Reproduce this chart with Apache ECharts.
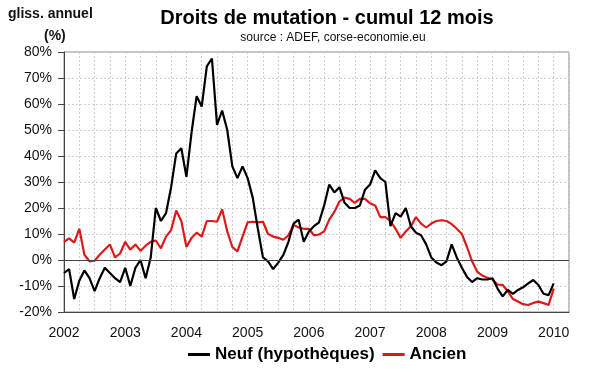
<!DOCTYPE html>
<html><head><meta charset="utf-8">
<script src="https://cdn.jsdelivr.net/npm/echarts@6/dist/echarts.min.js"></script>
<style>html,body{margin:0;padding:0;background:#fff}#c{width:600px;height:372px}</style>
</head><body><div id="c"></div>
<script>
// Monthly data, January 2002 .. January 2010 (index 0 = 2002-01)
const years = ['2002','2003','2004','2005','2006','2007','2008','2009','2010'];
const neuf = [-5,-3.5,-15,-8,-4,-7,-12,-7,-3,-5,-7,-8.5,
  -3,-10,-3,0,-7,1,20,15,18,28,41,43,
  32,49,63,59,74.5,77.5,52,57.5,50,36,31.5,36,
  31.5,24,12,1,-0.5,-3.5,-1,2,7,14,15.5,7,
  11,13,14.5,21,29,26,28,22,20,20,21,27,
  29,34.5,31.5,30,13,18,16.7,20,13,10.5,9.5,6,
  1,-1,-2,-0.5,6,1,-3,-6.5,-8.5,-7,-7.5,-7.5,
  -7,-11,-14,-11.5,-13,-11.5,-10.5,-9,-7.7,-9.6,-13,-13.5,
  -9];
const ancien = [7,8.3,6.7,12,2,-0.5,-0.3,2,4,6,1,2.5,
  7,4,6,3.5,5.5,7,7.5,4.5,9,11.5,19,15,
  5,8.5,10.5,9,15,15,14.7,19.5,11,5,3.3,9,
  14.5,14.7,14.5,14.7,10,9,8.5,7.8,9.5,13.5,12.5,12,
  12,9.5,9.8,11,15.5,18.5,22.5,24,23.5,22,23.5,23.5,
  21.8,21,16.5,16.5,15,12,8.5,11,13,16.5,14,12.5,
  14,15,15.3,15,13.8,12,10,5,-0.5,-4.5,-6,-6.8,
  -7.5,-9.5,-9.6,-12,-15,-16,-17,-17.3,-16.5,-16,-16.6,-17.3,
  -11];
const yTicks = [-20,-10,0,10,20,30,40,50,60,70,80];

const FONT = '"Liberation Sans", Arial, sans-serif';
const toPairs = arr => arr.map((v, i) => [i, v]);
const xLabel = v => (v % 12 === 0 && years[v / 12]) ? years[v / 12] : '';

const chart = echarts.init(document.getElementById('c'), null, {renderer: 'canvas'});
chart.setOption({
  animation: false,
  backgroundColor: '#fff',
  textStyle: {fontFamily: FONT},
  graphic: [
    {type: 'text', left: 8, top: 7, style: {text: 'gliss. annuel', font: 'bold 14px ' + FONT, fill: '#111'}},
    {type: 'text', left: 44, top: 29, style: {text: '(%)', font: 'bold 14px ' + FONT, fill: '#111'}},
    {type: 'text', x: 327, y: 8, style: {text: 'Droits de mutation - cumul 12 mois', font: 'bold 20px ' + FONT, fill: '#000', textAlign: 'center'}},
    {type: 'text', x: 333, y: 32, style: {text: 'source : ADEF, corse-economie.eu', font: '12px ' + FONT, fill: '#111', textAlign: 'center'}}
  ],
  grid: {left: 64, right: 31, top: 52, bottom: 60, show: true, borderColor: '#888', borderWidth: 1},
  legend: {
    left: 183, top: 341, itemGap: 8, itemWidth: 22, itemHeight: 3, icon: 'rect',
    textStyle: {fontFamily: FONT, fontSize: 17, fontWeight: 'bold', color: '#000'},
    data: ['Neuf (hypothèques)', 'Ancien']
  },
  xAxis: {
    type: 'value', min: 0, max: 99, interval: 3,
    axisLine: {show: true, onZero: false, lineStyle: {color: '#444', width: 1}},
    axisTick: {show: false},
    axisLabel: {formatter: xLabel, fontSize: 14, color: '#111', margin: 14, fontFamily: FONT, showMaxLabel: false},
    splitLine: {show: true, lineStyle: {color: '#cfcfcf', type: [2, 2]}}
  },
  yAxis: {
    type: 'value', min: -20, max: 80, interval: 10,
    axisLine: {show: true, lineStyle: {color: '#444'}},
    axisTick: {show: true, length: 6, lineStyle: {color: '#444'}},
    axisLabel: {formatter: v => yTicks.includes(v) ? v + '%' : '', fontSize: 14, color: '#111', margin: 12, fontFamily: FONT},
    splitLine: {show: true, lineStyle: {color: '#cfcfcf', type: [2, 2]}}
  },
  series: [{
    name: 'Neuf (hypothèques)', type: 'line', data: toPairs(neuf), showSymbol: false,
    lineStyle: {color: '#000', width: 2.2}, itemStyle: {color: '#000'}, z: 3,
    markLine: {
      silent: true, symbol: 'none', label: {show: false},
      lineStyle: {color: '#444', width: 1, type: 'solid'},
      data: [{yAxis: 0}]
    }
  }, {
    name: 'Ancien', type: 'line', data: toPairs(ancien), showSymbol: false,
    lineStyle: {color: '#dd1a1a', width: 2.2}, itemStyle: {color: '#dd1a1a'}, z: 2
  }]
});
</script></body></html>
